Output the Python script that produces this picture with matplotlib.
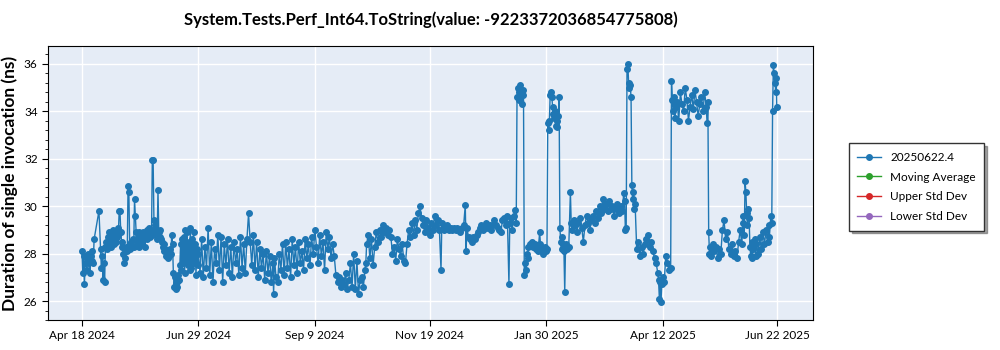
import matplotlib
matplotlib.use("Agg")
import matplotlib.pyplot as plt
import matplotlib.dates as mdates
from matplotlib.ticker import MultipleLocator, FuncFormatter
import pandas as pd

plt.rcParams["font.family"] = ["Lato", "DejaVu Sans"]

START = "2024-04-18"
TITLE = "System.Tests.Perf_Int64.ToString(value: -9223372036854775808)"
Y_LABEL = "Duration of single invocation (ns)"
SERIES_LABEL = "20250622.4"
EXTRA_LABELS = ["Moving Average", "Upper Std Dev", "Lower Std Dev"]
EXTRA_COLORS = ["#2ca02c", "#d62728", "#9467bd"]
TICK_DATES = ["2024-04-18", "2024-06-29", "2024-09-09", "2024-11-19",
              "2025-01-30", "2025-04-12", "2025-06-22"]

# days since START and measured duration (ns)
days = [
    0, 0.5, 1, 1.5, 2, 2.5, 3, 3.5, 4, 4.5, 5, 5.5, 6, 6.5, 7, 7.5, 10.5,
    11.5, 12, 12.5, 13, 13.5, 14, 14.5, 15, 15.5, 16, 16.5, 17, 17.5, 18, 18.5, 19, 19.5,
    20, 20.5, 21, 21.5, 22, 22.5, 23, 23.5, 24, 24.5, 25,
    25.5, 26, 26.5, 27, 27.5, 28, 28.5, 29, 29.5, 30, 30.5, 31, 31.5, 32, 32.5, 33, 33.5, 34,
    34.5, 35, 35.5, 36, 36.5, 37, 37.5, 38, 38.5, 39, 39.5, 40, 40.5, 41, 41.5, 42, 42.5, 43,
    43.5, 44, 44.5, 45, 45.5, 46, 46.5, 47, 47.5, 48, 48.5, 49,
    49.5, 50, 50.5, 51, 51.5, 52, 52.5, 53, 53.5, 54, 54.5, 55, 55.5, 56,
    56.5, 57, 57.5, 58, 58.5, 59, 59.5, 60,
    60.5, 61, 61.5, 62, 62.5, 63, 63.5, 64, 64.5, 65, 65.5, 66, 66.5, 67, 67.5, 68, 68.5, 69,
    69.5, 70, 70.5, 71, 71.5, 72,
    73, 74, 75, 76, 77, 78, 79, 80, 81, 82, 83, 84, 85, 86, 87, 88, 89, 90, 91, 92, 93, 94,
    95, 96, 97, 98, 99, 100, 101, 102, 103, 104, 105, 106, 107, 108, 109, 110, 111, 112, 113,
    114, 115, 116, 117, 118, 118.5, 119, 120, 121, 122, 123, 124, 125, 126, 127, 128, 129, 130,
    131, 132, 133, 134, 135, 136, 137, 138, 139, 140, 141, 142, 143, 144,
    145, 146, 147, 148, 149, 150, 151, 152, 153, 154, 155, 156,
    157, 158, 159, 160, 161, 162, 163, 164, 165, 166, 167, 168, 169, 170, 171, 172, 173, 174,
    175, 175.5,
    176, 177, 178, 179, 180, 181, 182, 183, 184, 185, 186, 187, 188, 189, 190, 191,
    192, 193, 194, 195, 196, 197, 198, 199, 200,
    201, 202, 203, 204, 205, 206, 207, 208, 209, 210, 211, 212, 213, 214, 215, 216, 217, 218,
    219, 220, 221, 222, 222.5,
    223, 224, 225, 226, 227, 228, 229, 230, 231, 232, 233, 234, 235, 236, 237, 237.5, 238, 239,
    240, 241, 242, 243, 244, 245, 246, 247, 248, 249, 250, 251, 252, 253, 254, 255, 256, 257,
    258, 259, 260, 261, 262,
    263, 264, 264.5, 265, 266, 267, 268, 268.5,
    269, 269.5, 270, 270.5, 271, 271.5, 272, 272.5, 273,
    273.5, 274, 274.5, 275, 275.5, 276, 277, 278, 279, 280, 281, 282, 283, 283.5, 284, 285,
    286, 287, 287.5,
    288, 288.5, 289, 289.5, 290, 290.5, 291, 291.5, 292, 292.5, 293, 293.5, 294, 294.5, 295,
    295.5, 296, 296.5, 297, 297.5, 298, 298.5, 299, 299.5, 300, 301, 302, 302.5, 303, 304, 305,
    306, 307, 308, 309, 310, 311, 312, 313, 314,
    315, 316, 317, 318, 319, 320, 321, 322, 323, 324, 325, 326, 327, 328, 329, 330, 331, 332,
    333, 334, 335, 335.5, 336, 336.5,
    337, 337.5, 338, 338.5, 339, 339.5,
    340, 340.5, 341, 341.5, 342,
    343, 344, 345, 346, 347, 348, 349, 350, 351, 352, 353, 354,
    355, 356, 356.5, 357, 357.5, 358, 358.5, 359, 360, 361, 362, 363, 364,
    364.5, 365, 365.5, 366, 366.5, 367, 368, 369, 370, 371, 372, 373, 374, 375, 376, 377, 378,
    379, 380, 381, 382, 383, 384, 385, 386, 386.5, 387,
    387.5, 388, 388.5, 389, 390, 391, 392, 393, 394, 395, 396, 397, 398, 399, 400, 401, 402, 403,
    404, 405, 406, 407, 408,
    408.5, 409, 409.5, 410, 410.5, 411, 411.5, 412, 412.5, 413, 413.5, 414, 414.5, 415, 416,
    416.5, 417, 418, 419, 420, 421, 422, 423, 424, 424.5, 425, 426, 426.5,
    427, 427.5, 428, 428.5, 429, 429.3, 429.6,
]

values = [
    28.1, 27.2, 27.9, 26.7, 27.6, 27.9, 27.3, 28.0, 27.6, 27.8, 27.2, 27.9, 27.7, 28.1, 27.6, 28.6, 29.8,
    28.2, 27.4, 27.9, 26.9, 27.6, 26.8, 28.3, 28.5, 28.2, 28.7, 28.4, 28.9, 28.6, 28.3, 28.8, 29.0, 28.6,
    28.4, 28.9, 28.5, 28.7, 29.1, 28.8, 29.8, 29.8, 28.9, 28.5, 28.3,
    28.0, 27.6, 27.8, 28.2, 28.3, 28.1, 30.85, 30.6, 28.4, 28.2, 28.5, 28.3, 28.6, 28.3, 30.3, 29.6, 28.9, 28.4,
    28.7, 28.3, 28.9, 28.5, 28.8, 28.4, 28.9, 28.6, 28.8, 28.3, 28.7, 29.0, 28.6, 28.8, 29.1, 28.7, 29.0, 28.8,
    31.95, 31.95, 29.4, 29.2, 28.8, 29.0, 28.6, 30.7, 28.9, 28.7, 29.0, 28.6,
    28.5, 28.3, 28.4, 28.1, 28.2, 27.9, 28.1, 27.8, 28.0, 27.9, 28.2, 28.0, 28.8, 28.4,
    27.2, 26.6, 27.0, 26.5, 26.8, 26.6, 27.1, 26.9,
    27.5, 28.4, 27.3, 28.6, 27.6, 28.7, 27.2, 29.0, 27.7, 28.9, 27.5, 28.5, 27.3, 29.1, 27.4, 28.6, 27.8, 28.9,
    27.6, 28.4, 27.1, 28.2, 27.5, 28.0,
    27.2, 28.6, 27.0, 28.3, 27.4, 29.1, 27.1, 28.5, 26.8, 28.2, 27.6, 28.8, 27.3, 28.7, 26.8, 28.4, 27.5, 28.6, 27.2, 28.3, 27.0, 28.5,
    27.6, 28.2, 27.1, 28.7, 27.4, 28.4, 27.2, 28.6, 29.7, 28.5, 27.5, 28.8, 27.3, 28.5, 27.0, 28.2, 27.4, 28.0, 26.9,
    28.1, 27.2, 27.9, 26.8, 27.6, 26.3, 27.8, 27.0, 26.8, 28.0, 27.3, 28.4, 27.1, 28.5, 27.4, 28.2, 27.0, 28.6,
    27.5, 28.3, 27.2, 28.5, 27.6, 28.1, 27.3, 28.6, 27.8, 28.4, 27.5, 28.7, 28.0, 29.0,
    28.3, 27.6, 28.8, 27.9, 28.5, 27.3, 28.9, 28.2, 28.7, 27.8, 28.4, 27.9,
    27.1, 26.8, 27.0, 26.6, 26.9, 26.7, 27.2, 26.5, 26.9, 27.6, 26.6, 28.0, 26.5, 27.7, 26.3, 26.9, 27.0, 26.6,
    27.3, 27.6,
    28.4, 28.8, 27.8, 28.6, 27.5, 28.3, 28.9, 28.5, 29.0, 28.7, 29.2, 28.9, 29.1, 28.8, 29.0, 28.7,
    28.0, 28.3, 27.7, 28.6, 28.2, 27.9, 28.4, 27.7, 27.6,
    28.4, 29.0, 28.7, 29.3, 28.8, 29.4, 29.0, 29.7, 30.0, 29.5, 29.2, 28.9, 29.4, 29.1, 28.8, 29.3, 29.0, 29.6,
    29.2, 29.4, 29.0, 27.3, 29.3,
    29.1, 29.0, 29.1, 29.2, 29.0, 29.1, 29.0, 29.1, 29.0, 29.1, 29.0, 28.9, 29.1, 29.2, 30.05, 28.1, 29.1, 28.7,
    28.6, 28.5, 28.7, 28.6, 28.8, 28.9, 29.1, 29.2, 29.0, 29.1, 29.3, 29.1, 29.2, 29.0, 29.2, 29.4, 29.2, 29.1,
    29.0, 28.9, 29.4, 29.5, 29.2,
    29.6, 26.7, 29.3, 29.5, 29.0, 29.6, 29.85, 29.3,
    34.6, 35.0, 34.8, 34.5, 35.1, 34.7, 34.3, 34.9, 34.7,
    27.1, 27.6, 27.3, 28.0, 27.8, 28.3, 28.4, 28.5, 28.3, 28.4, 28.2, 28.1, 28.9, 28.4, 28.2, 28.0,
    28.3, 28.1, 28.2,
    33.5, 33.2, 33.6, 34.7, 34.8, 34.6, 34.2, 33.9, 33.7, 34.0, 33.4, 33.6, 33.35, 33.8, 34.6,
    29.1, 28.5, 28.2, 28.7, 28.4, 28.1, 26.4, 28.3, 28.4, 28.2, 28.3, 30.6, 29.3, 29.0, 29.4, 29.2,
    28.9, 29.3, 29.5, 29.1, 28.5, 29.2, 29.6, 29.3, 29.0,
    29.4, 29.6, 29.3, 29.8, 29.5, 30.0, 29.7, 30.3, 29.9, 30.1, 29.8, 30.2, 29.9, 30.0, 29.6, 29.9, 30.1, 29.7,
    30.0, 29.8, 30.55, 30.2, 29.0, 29.1,
    35.8, 36.0, 35.2, 35.0, 35.1, 34.6,
    30.9, 30.3, 30.6, 29.9, 30.1,
    28.2, 28.5, 27.9, 28.3, 28.0, 28.4, 28.6, 28.8, 28.3, 28.5, 28.1, 27.8,
    27.6, 27.2, 26.9, 26.1, 26.8, 25.95, 26.7, 27.0, 26.8, 27.9, 27.6, 27.3, 27.4,
    35.3, 34.5, 34.0, 34.6, 33.7, 34.2, 34.4, 33.6, 34.8, 34.3, 34.0, 35.0, 34.5, 33.6, 34.2, 34.7, 34.1,
    34.9, 34.4, 33.8, 34.3, 34.6, 34.0, 34.8, 34.2, 33.5, 34.4,
    28.9, 28.0, 28.3, 27.9, 28.4, 28.1, 28.3, 27.8, 28.2, 28.0, 29.0, 29.4, 28.6, 28.9, 28.2, 28.0, 28.4, 27.9,
    28.1, 27.8, 28.5, 29.0, 28.4,
    29.3, 29.6, 28.8, 31.05, 30.6, 29.7, 29.2, 29.9, 29.5, 28.3, 27.9, 28.5, 27.8, 28.2, 28.6,
    27.9, 28.4, 28.0, 28.7, 28.2, 28.9, 28.4, 29.0, 28.5, 29.2, 28.7, 29.6, 29.3,
    34.0, 35.95, 35.6, 35.2, 34.8, 35.4, 34.2,
]

dates = pd.Timestamp(START) + pd.to_timedelta(days, unit="D")

fig = plt.figure(figsize=(10, 3.5), dpi=100)
ax = fig.add_axes([0.048, 0.0857, 0.765, 0.783])
ax.set_facecolor("#E5ECF6")

ax.plot(dates, values, color="#1f77b4", lw=1, marker="o", ms=4, label=SERIES_LABEL)
for lab, col in zip(EXTRA_LABELS, EXTRA_COLORS):
    ax.plot([], [], color=col, lw=1, marker="o", ms=4, label=lab)

ax.set_xlim(pd.Timestamp("2024-03-28"), pd.Timestamp("2025-07-14"))
ax.set_ylim(25.2, 36.76)

ax.set_xticks(pd.to_datetime(TICK_DATES))
ax.xaxis.set_major_formatter(FuncFormatter(
    lambda v, p: (lambda d: f"{d:%b} {d.day} {d.year}")(mdates.num2date(v))))
ax.yaxis.set_major_locator(MultipleLocator(2))
ax.yaxis.set_minor_locator(MultipleLocator(0.4))

ax.grid(True, color="white", lw=1)
ax.set_axisbelow(True)
ax.tick_params(labelsize=8.5, length=4)
ax.tick_params(axis="y", which="minor", length=2)
for s in ax.spines.values():
    s.set_color("black")

ax.set_title(TITLE, fontsize=12, fontweight="bold", pad=15)
ax.set_ylabel(Y_LABEL, fontsize=12.5, fontweight="bold")

leg = fig.legend(loc="upper left", bbox_to_anchor=(0.843, 0.607), fontsize=8.5,
                 fancybox=False, shadow=True, edgecolor="#333333", framealpha=1,
                 labelspacing=0.75, borderpad=0.7, handlelength=2.0)

fig.savefig("out.png", dpi=100)
